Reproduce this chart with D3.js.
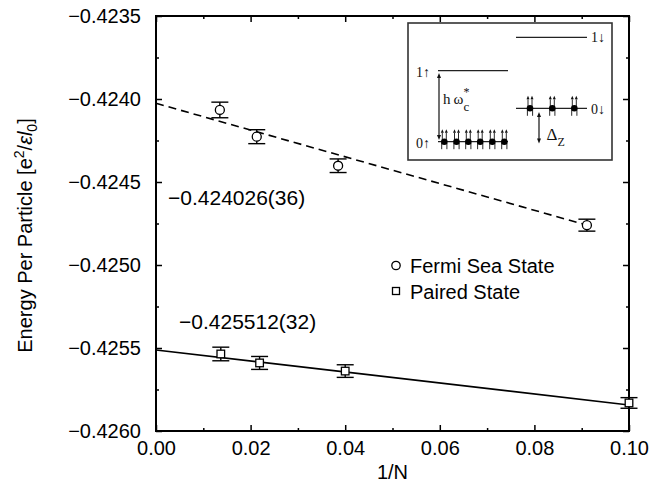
<!DOCTYPE html>
<html><head><meta charset="utf-8">
<script src="https://cdn.jsdelivr.net/npm/d3@7"></script>
<style>
html,body{margin:0;padding:0;background:#fff;}
svg{display:block;}
</style></head>
<body>
<svg id="chart" width="664" height="484"></svg>
<script>
// ---- data ----
const xMajorTicks = [0.00, 0.02, 0.04, 0.06, 0.08, 0.10];
const xMinorTicks = [0.01, 0.03, 0.05, 0.07, 0.09];
const yMajorTicks = [-0.4260, -0.4255, -0.4250, -0.4245, -0.4240, -0.4235];
const yMinorTicks = [-0.42575, -0.42525, -0.42475, -0.42425, -0.42375];

const fermiX   = [0.0135, 0.0213, 0.0385, 0.0911];
const fermiE   = [-0.424066, -0.424227, -0.424402, -0.424760];
const fermiErr = [0.000047, 0.000042, 0.000041, 0.000036];

const pairedX   = [0.0137, 0.0219, 0.0400, 0.1000];
const pairedE   = [-0.425536, -0.425590, -0.425639, -0.425831];
const pairedErr = [0.000041, 0.000039, 0.000038, 0.000032];

const fermiFitX  = [0, 0.0905];
const fermiFitE  = [-0.424026, -0.424755];
const pairedFitX = [0, 0.1000];
const pairedFitE = [-0.425512, -0.425843];

const fermiLabel  = "\u22120.424026(36)";
const pairedLabel = "\u22120.425512(32)";
const legendNames = ["Fermi Sea State", "Paired State"];

// ---- layout ----
const svg = d3.select("#chart");
const L = 156, R = 629, T = 16, B = 431;
const x = d3.scaleLinear().domain([0, 0.1]).range([L, R]);
const y = d3.scaleLinear().domain([-0.4260, -0.4235]).range([B, T]);
const FONT = "'Liberation Sans', Arial, Helvetica, sans-serif";
const SERIF = "'Liberation Serif', 'DejaVu Serif', 'Times New Roman', serif";

function styleAxis(g) {
  g.select(".domain").remove();
  g.selectAll(".tick line").attr("stroke", "#000").attr("stroke-width", 1.5);
  g.selectAll(".tick text").attr("fill", "#000").style("font-family", FONT).style("font-size", "20px");
}

// bottom
svg.append("g").attr("transform", `translate(0,${B})`)
  .call(d3.axisBottom(x).tickValues(xMajorTicks).tickSizeInner(-6).tickSizeOuter(0).tickPadding(10).tickFormat(d3.format(".2f")))
  .call(styleAxis);
svg.append("g").attr("transform", `translate(0,${B})`)
  .call(d3.axisBottom(x).tickValues(xMinorTicks).tickSizeInner(-3).tickSizeOuter(0).tickFormat(""))
  .call(styleAxis);
// top
svg.append("g").attr("transform", `translate(0,${T})`)
  .call(d3.axisTop(x).tickValues(xMajorTicks).tickSizeInner(-6).tickSizeOuter(0).tickFormat(""))
  .call(styleAxis);
svg.append("g").attr("transform", `translate(0,${T})`)
  .call(d3.axisTop(x).tickValues(xMinorTicks).tickSizeInner(-3).tickSizeOuter(0).tickFormat(""))
  .call(styleAxis);
// left
svg.append("g").attr("transform", `translate(${L},0)`)
  .call(d3.axisLeft(y).tickValues(yMajorTicks).tickSizeInner(-6).tickSizeOuter(0).tickPadding(15).tickFormat(d3.format(".4f")))
  .call(styleAxis);
svg.append("g").attr("transform", `translate(${L},0)`)
  .call(d3.axisLeft(y).tickValues(yMinorTicks).tickSizeInner(-3).tickSizeOuter(0).tickFormat(""))
  .call(styleAxis);
// right
svg.append("g").attr("transform", `translate(${R},0)`)
  .call(d3.axisRight(y).tickValues(yMajorTicks).tickSizeInner(-6).tickSizeOuter(0).tickFormat(""))
  .call(styleAxis);
svg.append("g").attr("transform", `translate(${R},0)`)
  .call(d3.axisRight(y).tickValues(yMinorTicks).tickSizeInner(-3).tickSizeOuter(0).tickFormat(""))
  .call(styleAxis);

// frame
svg.append("rect").attr("x", x(0)).attr("y", y(-0.4235))
  .attr("width", x(0.1) - x(0)).attr("height", y(-0.4260) - y(-0.4235))
  .attr("fill", "none").attr("stroke", "#000").attr("stroke-width", 2);

// axis titles
svg.append("text").attr("x", (L + R) / 2).attr("y", 479).attr("text-anchor", "middle")
  .style("font-family", FONT).style("font-size", "20px").text("1/N");

const yt = svg.append("text").attr("transform", `translate(32,${(T + B) / 2 + 12}) rotate(-90)`)
  .attr("text-anchor", "middle").style("font-family", FONT).style("font-size", "20px");
yt.append("tspan").text("Energy Per Particle [e");
yt.append("tspan").attr("dy", -8).style("font-size", "14px").text("2");
yt.append("tspan").attr("dy", 8).text("/");
yt.append("tspan").style("font-style", "italic").text("\u03B5l");
yt.append("tspan").attr("dy", 5).style("font-size", "14px").text("0");
yt.append("tspan").attr("dy", -5).text("]");

// fit lines
const line = d3.line().x(d => x(d[0])).y(d => y(d[1]));
svg.append("path").datum(d3.zip(fermiFitX, fermiFitE)).attr("d", line)
  .attr("fill", "none").attr("stroke", "#000").attr("stroke-width", 1.6).attr("stroke-dasharray", "8,5");
svg.append("path").datum(d3.zip(pairedFitX, pairedFitE)).attr("d", line)
  .attr("fill", "none").attr("stroke", "#000").attr("stroke-width", 1.6);

// error bars + markers
function errorBars(xs, es, errs) {
  const data = d3.zip(xs, es, errs);
  const g = svg.append("g").attr("stroke", "#000").attr("stroke-width", 1.4);
  g.selectAll("line.v").data(data).join("line")
    .attr("x1", d => x(d[0])).attr("x2", d => x(d[0]))
    .attr("y1", d => y(d[1] - d[2])).attr("y2", d => y(d[1] + d[2]));
  g.selectAll("line.t").data(data).join("line").attr("class", "t")
    .attr("x1", d => x(d[0]) - 8.5).attr("x2", d => x(d[0]) + 8.5)
    .attr("y1", d => y(d[1] + d[2])).attr("y2", d => y(d[1] + d[2]));
  g.selectAll("line.b").data(data).join("line").attr("class", "b")
    .attr("x1", d => x(d[0]) - 8.5).attr("x2", d => x(d[0]) + 8.5)
    .attr("y1", d => y(d[1] - d[2])).attr("y2", d => y(d[1] - d[2]));
  return data;
}
const fData = errorBars(fermiX, fermiE, fermiErr);
const pData = errorBars(pairedX, pairedE, pairedErr);
svg.append("g").selectAll("circle").data(fData).join("circle")
  .attr("cx", d => x(d[0])).attr("cy", d => y(d[1])).attr("r", 4.5)
  .attr("fill", "#fff").attr("stroke", "#000").attr("stroke-width", 1.3);
svg.append("g").selectAll("rect").data(pData).join("rect")
  .attr("x", d => x(d[0]) - 3.8).attr("y", d => y(d[1]) - 3.8).attr("width", 7.6).attr("height", 7.6)
  .attr("fill", "#fff").attr("stroke", "#000").attr("stroke-width", 1.3);

// annotations
svg.append("text").attr("x", 168).attr("y", 205).style("font-family", FONT).style("font-size", "21px").text(fermiLabel);
svg.append("text").attr("x", 179).attr("y", 329).style("font-family", FONT).style("font-size", "21px").text(pairedLabel);

// legend
const lg = svg.append("g");
lg.append("circle").attr("cx", 396).attr("cy", 265.5).attr("r", 4.2).attr("fill", "#fff").attr("stroke", "#000").attr("stroke-width", 1.3);
lg.append("rect").attr("x", 392.5).attr("y", 287.5).attr("width", 7).attr("height", 7).attr("fill", "#fff").attr("stroke", "#000").attr("stroke-width", 1.3);
lg.append("text").attr("x", 410).attr("y", 272.5).style("font-family", FONT).style("font-size", "20px").text(legendNames[0]);
lg.append("text").attr("x", 410).attr("y", 298.5).style("font-family", FONT).style("font-size", "20px").text(legendNames[1]);

// ---- inset schematic (local coordinates) ----
const ins = svg.append("g").attr("transform", "translate(408,23)");
ins.append("rect").attr("x", 0).attr("y", 0).attr("width", 204).attr("height", 137)
  .attr("fill", "#fff").attr("stroke", "#333").attr("stroke-width", 1.6);
const lv = ins.append("g").attr("stroke", "#222").attr("stroke-width", 1.3);
lv.append("line").attr("x1", 108).attr("x2", 179).attr("y1", 14.3).attr("y2", 14.3);
lv.append("line").attr("x1", 30).attr("x2", 100).attr("y1", 47.7).attr("y2", 47.7);
lv.append("line").attr("x1", 108).attr("x2", 179).attr("y1", 85.3).attr("y2", 85.3);
lv.append("line").attr("x1", 30).attr("x2", 100).attr("y1", 118.7).attr("y2", 118.7);

function sText(xx, yy, s, size) {
  return ins.append("text").attr("x", xx).attr("y", yy).style("font-family", SERIF).style("font-size", size + "px").attr("fill", "#111").text(s);
}
sText(8, 53.5, "1\u2191", 14);
sText(8, 124.5, "0\u2191", 14);
sText(183, 19, "1\u2193", 14);
sText(183, 90.5, "0\u2193", 14);

function arrowHead(g, xx, yy, dir, w, h) {
  // dir = -1 up, +1 down; tip at (xx,yy)
  g.append("path").attr("d", `M${xx},${yy} L${xx - w},${yy - dir * h} L${xx + w},${yy - dir * h} Z`).attr("fill", "#111").attr("stroke", "none");
}
function dblArrow(xx, y1, y2) {
  const g = ins.append("g");
  g.append("line").attr("x1", xx).attr("x2", xx).attr("y1", y1 + 3).attr("y2", y2 - 3).attr("stroke", "#111").attr("stroke-width", 1.2);
  arrowHead(g, xx, y1, -1, 2, 5);
  arrowHead(g, xx, y2, 1, 2, 5);
}
dblArrow(31, 50, 117);
dblArrow(131, 89, 120.5);

const hw = ins.append("text").attr("x", 35).attr("y", 81).style("font-family", SERIF).style("font-size", "15px").attr("fill", "#111");
hw.append("tspan").text("h\u2009\u03C9");
hw.append("tspan").attr("dy", -8).style("font-size", "12px").text("*");
hw.append("tspan").attr("dx", -6).attr("dy", 15).style("font-size", "13px").text("c");

const dz = ins.append("text").attr("x", 138.5).attr("y", 117).style("font-family", SERIF).style("font-size", "17px").attr("fill", "#111");
dz.append("tspan").text("\u0394");
dz.append("tspan").attr("dy", 6).style("font-size", "12px").text("Z");

function electron(cx, cy) {
  const g = ins.append("g");
  [-2, 2].forEach(o => {
    g.append("line").attr("x1", cx + o).attr("x2", cx + o).attr("y1", cy - 2).attr("y2", cy - 9).attr("stroke", "#111").attr("stroke-width", 0.9);
    arrowHead(g, cx + o, cy - 12.5, -1, 1.5, 3.5);
    g.append("line").attr("x1", cx + o * 1.3).attr("x2", cx + o * 1.3).attr("y1", cy + 1).attr("y2", cy + 7.5).attr("stroke", "#111").attr("stroke-width", 0.9);
  });
  g.append("circle").attr("cx", cx).attr("cy", cy).attr("r", 3.3).attr("fill", "#000");
}
[36.3, 48.5, 60.3, 72.2, 84.3, 96.3].forEach(cx => electron(cx, 118.7));
[122, 144.3, 166.3].forEach(cx => electron(cx, 85.3));
</script>
</body></html>
